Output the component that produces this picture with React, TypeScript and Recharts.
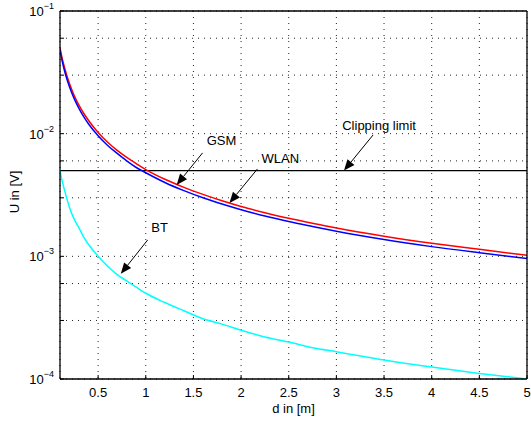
import { CartesianGrid, Line, LineChart, ReferenceLine, XAxis, YAxis } from "recharts";

// distance d in [m] and received voltage U in [V]
const dist = [0.1, 0.12, 0.15, 0.2, 0.25, 0.3, 0.35, 0.4, 0.5, 0.6, 0.7, 0.8, 0.9, 1, 1.2, 1.4, 1.6, 1.8, 2, 2.25, 2.5, 2.75, 3, 3.5, 4, 4.5, 5];
const gsm = [0.05, 0.042, 0.034, 0.0255, 0.0204, 0.017, 0.0146, 0.0128, 0.0102, 0.0085, 0.0073, 0.0064, 0.0057, 0.0051, 0.00425, 0.00365, 0.0032, 0.00284, 0.00255, 0.00227, 0.00204, 0.00186, 0.0017, 0.00146, 0.00128, 0.00114, 0.00102];
const wlan = [0.048, 0.04, 0.032, 0.024, 0.0192, 0.016, 0.0137, 0.012, 0.0096, 0.008, 0.0069, 0.006, 0.0053, 0.0048, 0.004, 0.00343, 0.003, 0.00267, 0.0024, 0.00213, 0.00192, 0.00175, 0.0016, 0.00137, 0.0012, 0.00107, 0.00096];
const bt = [0.005, 0.0042, 0.0034, 0.0025, 0.002, 0.0017, 0.00143, 0.00125, 0.001, 0.00083, 0.00071, 0.00063, 0.00056, 0.0005, 0.00042, 0.00036, 0.00031, 0.00028, 0.00025, 0.00022, 0.0002, 0.00018, 0.000167, 0.000143, 0.000125, 0.000111, 0.0001];

const clippingLimit = 0.005;

const xTicks = [0.5, 1, 1.5, 2, 2.5, 3, 3.5, 4, 4.5, 5];
const yTicks = [
  0.0001, 0.0002, 0.0003, 0.0004, 0.0005, 0.0006, 0.0007, 0.0008, 0.0009,
  0.001, 0.002, 0.003, 0.004, 0.005, 0.006, 0.007, 0.008, 0.009,
  0.01, 0.02, 0.03, 0.04, 0.05, 0.06, 0.07, 0.08, 0.09, 0.1,
];
const yLabelTicks = [0.0001, 0.001, 0.01, 0.1];

// arrows: [d, U] of the tail and of the head
const annotations = [
  { label: "Clipping limit", tail: [3.385, 0.00976], head: [3.08, 0.005] },
  { label: "GSM", tail: [1.596, 0.00697], head: [1.324, 0.00382] },
  { label: "WLAN", tail: [2.171, 0.00515], head: [1.878, 0.00272] },
  { label: "BT", tail: [1.02, 0.00136], head: [0.738, 0.00072] },
];
const labelOffset: Record<string, [number, number]> = {
  "Clipping limit": [6, -9],
  GSM: [19, -12],
  WLAN: [23, -11],
  BT: [12, -12],
};

const font = "'Liberation Sans', Arial, Helvetica, sans-serif";

const data = dist.map((d, i) => ({ d, gsm: gsm[i], wlan: wlan[i], bt: bt[i] }));

function XTick(props: any) {
  return (
    <text x={props.x} y={397} textAnchor="middle" fontSize={13} fontFamily={font} fill="#000">
      {props.payload.value}
    </text>
  );
}

function YTick(props: any) {
  const v = props.payload.value;
  if (!yLabelTicks.some((t) => Math.abs(t - v) < t * 1e-6)) return null;
  const exp = Math.round(Math.log10(v));
  return (
    <text x={54} y={props.y + 5} textAnchor="end" fontSize={13} fontFamily={font} fill="#000">
      <tspan>10</tspan>
      <tspan dy={-7} fontSize={9}>{"\u2212" + Math.abs(exp)}</tspan>
    </text>
  );
}

function arrowShape(label: string) {
  return (p: any) => {
    const { x1, y1, x2, y2 } = p;
    if (x1 == null || y2 == null) return <g />;
    const ang = Math.atan2(y2 - y1, x2 - x1);
    const len = 11;
    const w = 4.5;
    const bx = x2 - len * Math.cos(ang);
    const by = y2 - len * Math.sin(ang);
    const nx = -Math.sin(ang) * w;
    const ny = Math.cos(ang) * w;
    const [dx, dy] = labelOffset[label];
    return (
      <g>
        <line x1={x1} y1={y1} x2={bx} y2={by} stroke="#000" strokeWidth={1} />
        <polygon points={`${x2},${y2} ${bx + nx},${by + ny} ${bx - nx},${by - ny}`} fill="#000" />
        <text
          x={x1 + dx}
          y={y1 + dy}
          textAnchor="middle"
          dominantBaseline="central"
          fontSize={13}
          fontFamily={font}
          fill="#000"
        >
          {label}
        </text>
      </g>
    );
  };
}

export default function App() {
  return (
    <div style={{ position: "absolute", left: 0, top: 0, background: "#fff" }}>
      <LineChart width={531} height={423} data={data} margin={{ top: 10, right: 3, bottom: 0, left: 0 }}>
        <CartesianGrid xAxisId="main" yAxisId="main" stroke="#222" strokeDasharray="1 5" />
        <XAxis
          xAxisId="main"
          dataKey="d"
          type="number"
          domain={[0.1, 5]}
          allowDataOverflow
          ticks={xTicks}
          height={44}
          tickSize={-4}
          tick={<XTick />}
          axisLine={{ stroke: "#000", strokeWidth: 1.3 }}
          tickLine={{ stroke: "#000" }}
          label={() => (
            <text x={293.5} y={413} textAnchor="middle" fontSize={13} fontFamily={font} fill="#000">
              d in [m]
            </text>
          )}
        />
        <XAxis
          xAxisId="top"
          orientation="top"
          dataKey="d"
          type="number"
          domain={[0.1, 5]}
          allowDataOverflow
          ticks={xTicks}
          height={1}
          tickSize={-4}
          tick={false}
          axisLine={{ stroke: "#000", strokeWidth: 1.3 }}
          tickLine={{ stroke: "#000" }}
        />
        <YAxis
          yAxisId="main"
          scale="log"
          type="number"
          domain={[0.0001, 0.1]}
          allowDataOverflow
          ticks={yTicks}
          width={60}
          tickSize={-4}
          tick={<YTick />}
          axisLine={{ stroke: "#000", strokeWidth: 1.3 }}
          tickLine={{ stroke: "#000" }}
          label={() => (
            <text
              x={14}
              y={192}
              textAnchor="middle"
              dominantBaseline="central"
              transform="rotate(-90 14 192)"
              fontSize={13}
              fontFamily={font}
              fill="#000"
            >
              U in [V]
            </text>
          )}
        />
        <YAxis
          yAxisId="right"
          orientation="right"
          scale="log"
          type="number"
          domain={[0.0001, 0.1]}
          allowDataOverflow
          ticks={yTicks}
          width={1}
          tickSize={-4}
          tick={false}
          axisLine={{ stroke: "#000", strokeWidth: 1.3 }}
          tickLine={{ stroke: "#000" }}
        />
        <ReferenceLine xAxisId="main" yAxisId="main" y={clippingLimit} stroke="#000" strokeWidth={1.2} />
        <Line xAxisId="main" yAxisId="main" dataKey="gsm" type="monotone" stroke="#ff0000" strokeWidth={1.5} dot={false} activeDot={false} isAnimationActive={false} />
        <Line xAxisId="main" yAxisId="main" dataKey="wlan" type="monotone" stroke="#0000ff" strokeWidth={1.5} dot={false} activeDot={false} isAnimationActive={false} />
        <Line xAxisId="main" yAxisId="main" dataKey="bt" type="monotone" stroke="#00ffff" strokeWidth={1.5} dot={false} activeDot={false} isAnimationActive={false} />
        {annotations.map((a) => (
          <ReferenceLine
            key={a.label}
            xAxisId="main"
            yAxisId="main"
            segment={[
              { x: a.tail[0], y: a.tail[1] },
              { x: a.head[0], y: a.head[1] },
            ]}
            stroke="#000"
            shape={arrowShape(a.label)}
          />
        ))}
      </LineChart>
    </div>
  );
}
